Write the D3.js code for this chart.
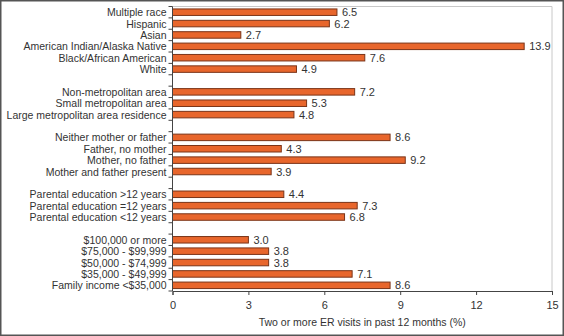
<!DOCTYPE html>
<html><head><meta charset="utf-8">
<script src="https://cdn.jsdelivr.net/npm/d3@7"></script>
<style>
html,body{margin:0;padding:0;background:#fff;}
svg{display:block;font-family:"Liberation Sans",Arial,sans-serif;}
</style></head>
<body>
<svg id="c" width="564" height="336"></svg>
<script>
const categories = [
  "Multiple race","Hispanic","Asian","American Indian/Alaska Native","Black/African American","White",
  "gap1",
  "Non-metropolitan area","Small metropolitan area","Large metropolitan area residence",
  "gap2",
  "Neither mother or father","Father, no mother","Mother, no father","Mother and father present",
  "gap3",
  "Parental education >12 years","Parental education =12 years","Parental education <12 years",
  "gap4",
  "$100,000 or more","$75,000 - $99,999","$50,000 - $74,999","$35,000 - $49,999","Family income <$35,000"
];
const values = [
  6.5,6.2,2.7,13.9,7.6,4.9,
  null,
  7.2,5.3,4.8,
  null,
  8.6,4.3,9.2,3.9,
  null,
  4.4,7.3,6.8,
  null,
  3.0,3.8,3.8,7.1,8.6
];
const xTicks = [0,3,6,9,12,15];
const xTitle = "Two or more ER visits in past 12 months (%)";

(function(){
const svg = d3.select("#c");
const W=564,H=336, fs=10.5;
svg.append("rect").attr("x",0.75).attr("y",0.75).attr("width",W-1.5).attr("height",H-1.5)
  .attr("fill","#fff").attr("stroke","#555").attr("stroke-width",1.5);

const pl=172.5, pr=552, pt=6.5, pb=291;
const x = d3.scaleLinear().domain([0,15]).range([pl,pr]);
const y = d3.scaleBand().domain(categories).range([pt,pb]).paddingInner(0).paddingOuter(0);

svg.append("path").attr("d",`M${pl},${pt}H${pr}V${pb}`).attr("fill","none").attr("stroke","#c8c8c8").attr("stroke-width",1);

const data = categories.map((c,i)=>({c,v:values[i]})).filter(d=>d.v!=null);
const bh=6.5;
svg.append("g").selectAll("rect").data(data).join("rect")
  .attr("x",x(0)).attr("y",d=>y(d.c)+y.bandwidth()/2-bh/2)
  .attr("width",d=>x(d.v)-x(0)).attr("height",bh)
  .attr("fill","#e8662c").attr("stroke","#7a3418").attr("stroke-width",1);

svg.append("g").selectAll("text").data(data).join("text")
  .attr("x",d=>x(d.v)+5).attr("y",d=>y(d.c)+y.bandwidth()/2+4)
  .attr("font-size",fs+0.5).attr("fill","#333").text(d=>d.v.toFixed(1));

const yAxis = svg.append("g").attr("transform",`translate(${pl},0)`);
yAxis.append("line").attr("x1",0).attr("x2",0).attr("y1",pt).attr("y2",pb).attr("stroke","#444");
const bounds = d3.range(categories.length+1).map(i=>pt+i*y.step());
yAxis.selectAll("line.t").data(bounds).join("line").attr("class","t")
  .attr("x1",-4).attr("x2",0).attr("y1",d=>d).attr("y2",d=>d).attr("stroke","#444");
yAxis.selectAll("text").data(categories.filter(c=>!c.startsWith("gap"))).join("text")
  .attr("x",-6).attr("y",d=>y(d)+y.bandwidth()/2+4).attr("text-anchor","end")
  .attr("font-size",fs).attr("fill","#333").text(d=>d);

const xAxis = d3.axisBottom(x).tickValues(xTicks).tickSize(4).tickFormat(d3.format("d"));
const gx = svg.append("g").attr("transform",`translate(0,${pb})`).call(xAxis);
gx.select(".domain").attr("stroke","#444");
gx.selectAll(".tick line").attr("stroke","#444");
gx.selectAll(".tick text").attr("font-size",fs+0.5).attr("fill","#333").attr("dy","1em")
  .attr("font-family","Liberation Sans, Arial, sans-serif");

svg.append("text").attr("x",(pl+pr)/2).attr("y",325.5).attr("text-anchor","middle")
  .attr("font-size",fs).attr("fill","#333").text(xTitle);
})();
</script>
</body></html>
